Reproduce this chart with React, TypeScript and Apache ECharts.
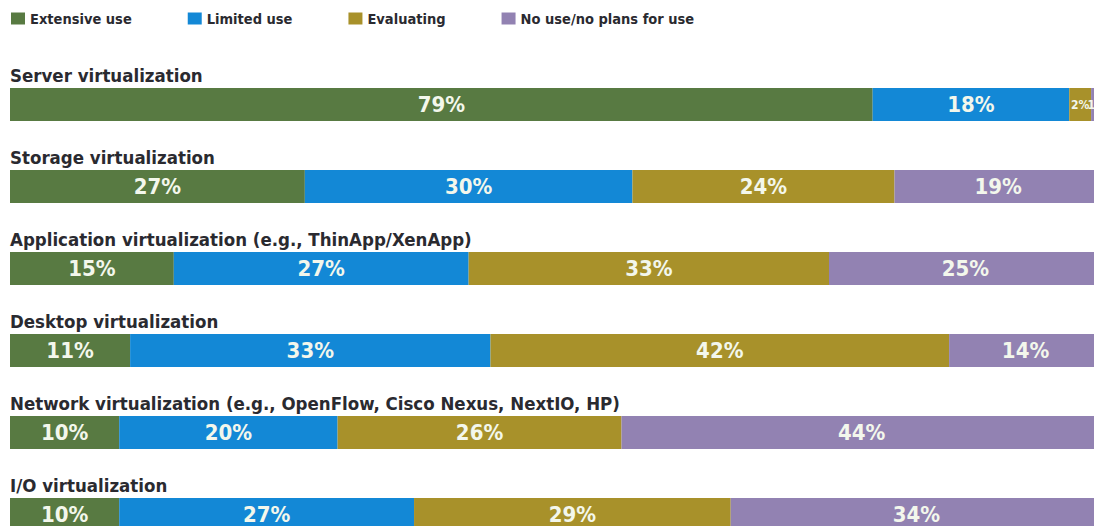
import React, { useEffect, useRef } from "react";
import * as echarts from "echarts";

const categories = [
  "Server virtualization",
  "Storage virtualization",
  "Application virtualization (e.g., ThinApp/XenApp)",
  "Desktop virtualization",
  "Network virtualization (e.g., OpenFlow, Cisco Nexus, NextIO, HP)",
  "I/O virtualization",
];
const seriesNames = ["Extensive use", "Limited use", "Evaluating", "No use/no plans for use"];
const extensiveUse = [79, 27, 15, 11, 10, 10];
const limitedUse = [18, 30, 27, 33, 20, 27];
const evaluating = [2, 24, 33, 42, 26, 29];
const noUse = [1, 19, 25, 14, 44, 34];
const colors = ["#587a42", "#1388d6", "#a8912a", "#9282b2"];

const FONT = "'DejaVu Sans Condensed', 'DejaVu Sans', sans-serif";

export default function App() {
  const ref = useRef<HTMLDivElement>(null);
  useEffect(() => {
    if (!ref.current) return;
    const chart = echarts.init(ref.current, null, { renderer: "svg" });
    const values = [extensiveUse, limitedUse, evaluating, noUse];
    chart.setOption({
      animation: false,
      legend: {
        left: 11,
        top: 11,
        padding: 0,
        itemWidth: 14,
        itemHeight: 12,
        itemGap: 56,
        icon: "rect",
        textStyle: { fontFamily: FONT, fontSize: 14.5, fontWeight: "bold", color: "#2a2a30" },
        data: seriesNames,
      },
      grid: { left: 10, width: 1092, top: 63.5, height: 492 },
      xAxis: { type: "value", min: 0, max: 100, show: false },
      yAxis: {
        type: "category",
        inverse: true,
        data: categories,
        axisLine: { show: false },
        axisTick: { show: false },
        splitLine: { show: false },
        axisLabel: {
          inside: true,
          margin: 0,
          align: "left",
          verticalAlign: "bottom",
          padding: [0, 0, 20, 0],
          fontFamily: FONT,
          fontSize: 18.5,
          fontWeight: "bold",
          color: "#2a2a30",
        },
      },
      series: seriesNames.map((name, i) => ({
        name,
        type: "bar",
        stack: "total",
        barWidth: 33,
        data: values[i].map((v) => (v < 5 ? { value: v, label: { fontSize: 12, lineHeight: 12 } } : v)),
        itemStyle: { color: colors[i] },
        label: {
          show: true,
          position: "inside",
          formatter: "{c}%",
          color: "#f3f7ec",
          fontFamily: FONT,
          fontSize: 22,
          lineHeight: 22,
          fontWeight: "bold",
        },
      })),
    });
    return () => chart.dispose();
  }, []);
  return (
    <div
      style={{
        position: "absolute",
        left: 0,
        top: 0,
        width: 1094,
        height: 526,
        overflow: "hidden",
        background: "#fff",
      }}
    >
      <div ref={ref} style={{ width: 1110, height: 570 }} />
    </div>
  );
}
